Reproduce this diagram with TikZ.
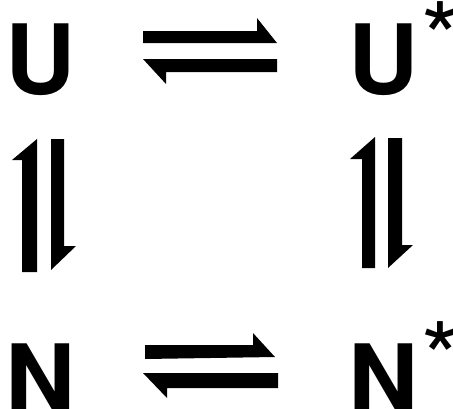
\documentclass[tikz,border=0pt]{standalone}
\usepackage{fontspec}
\setmainfont{TeX Gyre Heros}
\usepackage{tikz}
\usetikzlibrary{positioning}
\tikzset{every picture/.append style={thick}}

\newcommand{\starmark}{\kern3pt\raisebox{20pt}{\fontsize{100}{100}\selectfont\mdseries *}}

\begin{document}
\begin{tikzpicture}[x=1pt,y=-1pt,
    species/.style={font=\fontsize{97}{97}\selectfont\bfseries, inner sep=0pt, anchor=base west},
    harp/.style={fill=black}]
    % page frame (pixel units)
    \useasboundingbox (0,0) rectangle (453,408);

    % the four species
    \node[species] (U)  at (5,94)   {U};
    \node[species] (Us) at (348,94) {U\starmark};
    \node[species] (N)  at (5,414)  {N};
    \node[species] (Ns) at (348,414) {N\starmark};

    % start points of the harpoons
    \coordinate (tf) at (143,31);   % U -> U*
    \coordinate (tb) at (277,59);   % U* -> U
    \coordinate (bf) at (145,345);  % N -> N*
    \coordinate (bb) at (278,373);  % N* -> N
    \coordinate (lu) at (37,272);   % N -> U
    \coordinate (ld) at (51,139);   % U -> N
    \coordinate (ru) at (375,268);  % N* -> U*
    \coordinate (rd) at (388,138);  % U* -> N*

    % horizontal equilibria
    \fill[harp] (tf) -- ++(114,0) -- ++(0,-13) -- ++(20,25) -- ++(-134,0) -- cycle;
    \fill[harp] (tb) -- ++(-134,0) -- ++(23,25) -- ++(0,-12) -- ++(111,0) -- cycle;
    \fill[harp] (bf) -- ++(108,0) -- ++(0,-12) -- ++(22,24) -- ++(-130,2) -- cycle;
    \fill[harp] (bb) -- ++(-135,0) -- ++(24,25) -- ++(0,-10) -- ++(111,0) -- cycle;

    % vertical equilibria
    \fill[harp] (lu) -- ++(0,-133) -- ++(-25,21) -- ++(10,0) -- ++(0,112) -- cycle;
    \fill[harp] (ld) -- ++(13,0) -- ++(0,107) -- ++(12,0) -- ++(-25,24) -- cycle;
    \fill[harp] (ru) -- ++(0,-131) -- ++(-25,22) -- ++(12,0) -- ++(0,109) -- cycle;
    \fill[harp] (rd) -- ++(14,0) -- ++(0,107) -- ++(11,0) -- ++(-25,23) -- cycle;
\end{tikzpicture}
\end{document}
